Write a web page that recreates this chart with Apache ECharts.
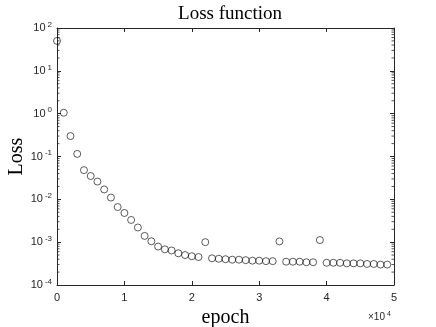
<!DOCTYPE html>
<html>
<head>
<meta charset="utf-8">
<script src="https://cdn.jsdelivr.net/npm/echarts@6/dist/echarts.min.js"></script>
<style>
  html, body { margin: 0; padding: 0; background: #fff; }
  #chart { width: 436px; height: 327px; }
</style>
</head>
<body>
<div id="chart"></div>
<script>
// epochs (every 1000) and loss values
const epochs = [
  0, 1000, 2000, 3000, 4000, 5000, 6000, 7000, 8000, 9000,
  10000, 11000, 12000, 13000, 14000, 15000, 16000, 17000, 18000, 19000,
  20000, 21000, 22000, 23000, 24000, 25000, 26000, 27000, 28000, 29000,
  30000, 31000, 32000, 33000, 34000, 35000, 36000, 37000, 38000, 39000,
  40000, 41000, 42000, 43000, 44000, 45000, 46000, 47000, 48000, 49000
]
const loss = [
  50, 1.05, 0.30, 0.115, 0.048, 0.035, 0.026, 0.017, 0.011, 0.0066,
  0.0048, 0.0033, 0.0022, 0.0014, 0.00105, 0.00079, 0.00068, 0.00064, 0.00055, 0.00050,
  0.00047, 0.00045, 0.00100, 0.00042, 0.00041, 0.00040, 0.00039, 0.00039, 0.00038, 0.00037,
  0.00037, 0.00036, 0.00036, 0.00104, 0.00035, 0.00035, 0.00035, 0.00034, 0.00034, 0.00112,
  0.00033, 0.00033, 0.00033, 0.00032, 0.00032, 0.00032, 0.00031, 0.00031, 0.00030, 0.00030
]
const xTicks = [0, 1, 2, 3, 4, 5] // ×10^4
const yDecades = [-4, -3, -2, -1, 0, 1, 2]

const axisColor = '#262626'
const serif = '"Liberation Serif", "DejaVu Serif", serif'
const sans = '"Liberation Sans", Arial, sans-serif'

const chart = echarts.init(document.getElementById('chart'), null, { renderer: 'canvas' })

const xBase = {
  type: 'value',
  min: 0,
  max: 50000,
  interval: 10000,
  axisLine: { show: true, onZero: false, lineStyle: { color: axisColor, width: 1 } },
  axisTick: { show: true, inside: true, length: 4, lineStyle: { color: axisColor } },
  splitLine: { show: false },
}
const yBase = {
  type: 'log',
  logBase: 10,
  min: Math.pow(10, yDecades[0]),
  max: Math.pow(10, yDecades[yDecades.length - 1]),
  axisLine: { show: true, onZero: false, lineStyle: { color: axisColor, width: 1 } },
  axisTick: { show: true, inside: true, length: 4, lineStyle: { color: axisColor } },
  splitLine: { show: false },
}

const option = {
  animation: false,
  backgroundColor: '#fff',
  title: {
    text: 'Loss function',
    left: 225,
    top: 0,
    textAlign: 'center',
    textStyle: { fontFamily: serif, fontSize: 19, fontWeight: 'normal', color: '#000' },
  },
  grid: { left: 57, right: 42, top: 28, bottom: 42, outerBoundsMode: 'none', containLabel: false },
  xAxis: [
    Object.assign({}, xBase, {
      position: 'bottom',
      name: 'epoch',
      nameLocation: 'middle',
      nameGap: 22,
      nameTextStyle: { fontFamily: serif, fontSize: 20, color: '#000' },
      axisLabel: {
        color: axisColor,
        fontFamily: sans,
        fontSize: 11,
        margin: 7,
        formatter: (v) => String(xTicks[Math.round(v / 10000)]),
      },
    }),
    Object.assign({}, xBase, { position: 'top', axisLabel: { show: false } }),
  ],
  yAxis: [
    Object.assign({}, yBase, {
      position: 'left',
      name: 'Loss',
      nameLocation: 'middle',
      nameGap: 30,
      nameMoveOverlap: false,
      nameTextStyle: { fontFamily: serif, fontSize: 20, color: '#000' },
      axisLabel: {
        margin: 5,
        formatter: (v) => '{b|10}{s|' + Math.round(Math.log10(v)) + '}',
        rich: {
          b: { fontFamily: sans, fontSize: 11, color: axisColor },
          s: { fontFamily: sans, fontSize: 8, color: axisColor, padding: [0, 0, 7, 2] },
        },
      },
    }),
    Object.assign({}, yBase, { position: 'right', axisLabel: { show: false } }),
  ],
  series: [
    {
      type: 'scatter',
      xAxisIndex: 0,
      yAxisIndex: 0,
      symbol: 'circle',
      symbolSize: 7,
      itemStyle: { color: 'rgba(255,255,255,0)', borderColor: '#000', borderWidth: 0.8 },
      data: epochs.map((e, i) => [e, loss[i]]),
    },
  ],
  graphic: [
    {
      type: 'text',
      left: 368,
      top: 311,
      style: {
        text: '×10{s|4}',
        rich: { s: { fontSize: 7, padding: [0, 0, 6, 2], fill: axisColor, fontFamily: sans } },
        fontFamily: sans,
        fontSize: 10,
        fill: axisColor,
      },
    },
  ],
}
chart.setOption(option)

// log-style minor ticks (2..9 in each decade) on left and right axes
const minor = []
const rect = { left: 57, right: 436 - 42 }
yDecades.slice(0, -1).forEach((d) => {
  for (let k = 2; k <= 9; k++) {
    const py = chart.convertToPixel({ yAxisIndex: 0 }, k * Math.pow(10, d))
    minor.push({ type: 'line', shape: { x1: rect.left, y1: py, x2: rect.left + 2.5, y2: py }, style: { stroke: axisColor, lineWidth: 0.8 }, silent: true })
    minor.push({ type: 'line', shape: { x1: rect.right, y1: py, x2: rect.right - 2.5, y2: py }, style: { stroke: axisColor, lineWidth: 0.8 }, silent: true })
  }
})
chart.setOption({ graphic: option.graphic.concat(minor) })
</script>
</body>
</html>
